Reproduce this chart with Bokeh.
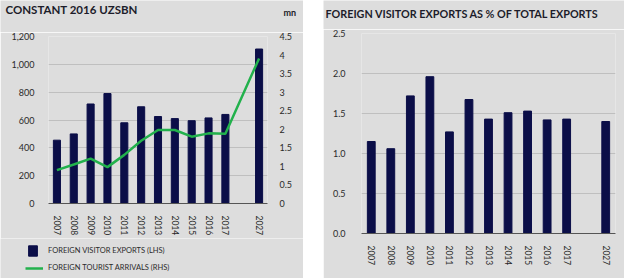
from bokeh.plotting import figure
from bokeh.models import (FactorRange, Range1d, LinearAxis, FixedTicker, NumeralTickFormatter,
                          Legend, LegendItem, Label, Spacer, ColumnDataSource)
from bokeh.layouts import row, column
from bokeh.embed import file_html
from bokeh.resources import INLINE

# ---------------- data ----------------
years = ["2007", "2008", "2009", "2010", "2011", "2012", "2013", "2014", "2015", "2016", "2017", "2027"]
visitor_exports = [455, 500, 715, 790, 580, 695, 625, 610, 595, 615, 640, 1110]       # UZS bn (LHS)
tourist_arrivals = [0.90, 1.05, 1.21, 0.98, 1.31, 1.69, 1.98, 1.98, 1.80, 1.89, 1.88, 3.91]  # mn (RHS)
export_share = [1.15, 1.06, 1.72, 1.96, 1.27, 1.675, 1.43, 1.51, 1.53, 1.42, 1.43, 1.40]  # % of total exports
lhs_ticks = [0, 200, 400, 600, 800, 1000, 1200]
rhs_ticks = [0, 0.5, 1, 1.5, 2, 2.5, 3, 3.5, 4, 4.5]
share_ticks = [0, 0.5, 1.0, 1.5, 2.0, 2.5]
title_left = "CONSTANT 2016 UZSBN"
title_right = "FOREIGN VISITOR EXPORTS AS % OF TOTAL EXPORTS"
unit_right = "mn"
legend_bar = "FOREIGN VISITOR EXPORTS (LHS)"
legend_line = "FOREIGN TOURIST ARRIVALS (RHS)"

# ---------------- style ----------------
BG = "#dddddd"
NAVY = "#0b0e48"
GREEN = "#22b14c"
GRID = "#bfbfbf"
TXT = "#2a2a2a"
TITLE_C = "#1c1c2a"
FONT = "Lato"

factors = years[:-1] + [" "] + years[-1:]
src = ColumnDataSource(dict(year=years, exports=visitor_exports, arrivals=tourist_arrivals,
                            share=export_share))


def style(p):
    p.background_fill_color = BG
    p.border_fill_color = BG
    p.outline_line_color = None
    p.xgrid.grid_line_color = None
    p.ygrid.grid_line_color = GRID
    p.ygrid.grid_line_width = 1
    for ax in p.xaxis:
        ax.axis_line_color = "#555555"
        ax.axis_line_width = 1.2
        ax.major_tick_line_color = None
        ax.minor_tick_line_color = None
        ax.major_label_orientation = "vertical"
        ax.major_label_text_font = FONT
        ax.major_label_text_font_size = "8.5px"
        ax.major_label_text_color = TXT
        ax.major_label_standoff = 6
    for ax in p.yaxis:
        ax.axis_line_color = None
        ax.major_tick_line_color = None
        ax.minor_tick_line_color = None
        ax.major_label_text_font = FONT
        ax.major_label_text_font_size = "9px"
        ax.major_label_text_color = TXT


def strip(w, h):
    # a plain grey strip (no axes, no grid) whose frame is the whole canvas; 1 data unit = 1 px
    s = figure(width=w, height=h, x_range=Range1d(0, w), y_range=Range1d(0, h),
               x_axis_type=None, y_axis_type=None, output_backend="svg",
               toolbar_location=None, min_border_left=0, min_border_right=0,
               min_border_top=0, min_border_bottom=0, frame_align=False)
    s.background_fill_color = BG
    s.border_fill_color = BG
    s.outline_line_color = None
    return s


def text(s, x, y, t, size, bold=True):
    s.add_layout(Label(x=x, y=y, text=t, text_font=FONT, text_font_size=size,
                       text_font_style="bold" if bold else "normal", text_color=TITLE_C,
                       text_baseline="middle"))


# ---------------- left chart ----------------
W1 = 303
head1 = strip(W1, 32)
text(head1, 5, 23, title_left, "11.5px")
text(head1, 283, 20, unit_right, "9px")

p1 = figure(width=W1, height=206, x_range=FactorRange(factors=factors, range_padding=0),
            y_range=Range1d(0, 1200), output_backend="svg", toolbar_location=None,
            min_border_left=48, min_border_right=36, min_border_top=4, min_border_bottom=32,
            frame_align=False)
p1.extra_y_ranges = {"rhs": Range1d(0, 4.5)}
p1.yaxis.ticker = FixedTicker(ticks=lhs_ticks)
p1.yaxis.formatter = NumeralTickFormatter(format="0,0")
p1.yaxis.major_label_standoff = 8
rax = LinearAxis(y_range_name="rhs", ticker=FixedTicker(ticks=rhs_ticks),
                 formatter=NumeralTickFormatter(format="0[.]0"))
p1.add_layout(rax, "right")
rax.major_label_standoff = 6
style(p1)
p1.vbar(x="year", top="exports", width=0.42, source=src, color=NAVY)
p1.line(x="year", y="arrivals", source=src, y_range_name="rhs", color=GREEN, line_width=2.5)

foot1 = strip(W1, 40)
# key renderers: a single point placed off-canvas, only used to draw the legend glyphs
key_src = ColumnDataSource(dict(x=[-50], y=[-50]))
key_bar = foot1.rect(x="x", y="y", width=1, height=1, source=key_src, color=NAVY)
key_line = foot1.line(x="x", y="y", source=key_src, color=GREEN, line_width=2.5)
leg1 = Legend(items=[LegendItem(label=legend_bar, renderers=[key_bar])], location=(27, 21),
              glyph_width=11, glyph_height=13, label_height=13, label_standoff=10,
              padding=0, margin=0, border_line_color=None, background_fill_alpha=0,
              label_text_font=FONT, label_text_font_size="7.5px", label_text_color=TXT)
leg2 = Legend(items=[LegendItem(label=legend_line, renderers=[key_line])], location=(25, 6),
              glyph_width=18, glyph_height=8, label_height=8, label_standoff=5,
              padding=0, margin=0, border_line_color=None, background_fill_alpha=0,
              label_text_font=FONT, label_text_font_size="7.5px", label_text_color=TXT)
foot1.add_layout(leg1)
foot1.add_layout(leg2)

# ---------------- right chart ----------------
W2 = 301
head2 = strip(W2, 29)
text(head2, 2, 16, title_right, "10.8px")

p2 = figure(width=W2, height=249, x_range=FactorRange(factors=factors, range_padding=0),
            y_range=Range1d(0, 2.5), output_backend="svg", toolbar_location=None,
            min_border_left=38, min_border_right=9, min_border_top=4, min_border_bottom=45,
            frame_align=False)
p2.yaxis.ticker = FixedTicker(ticks=share_ticks)
p2.yaxis.formatter = NumeralTickFormatter(format="0.0")
p2.yaxis.major_label_standoff = 10
style(p2)
p2.vbar(x="year", top="share", width=0.4, source=src, color=NAVY)

layout = row(column(head1, p1, foot1), Spacer(width=20, height=278), column(head2, p2))
open("out.html", "w").write(file_html(layout, INLINE))
